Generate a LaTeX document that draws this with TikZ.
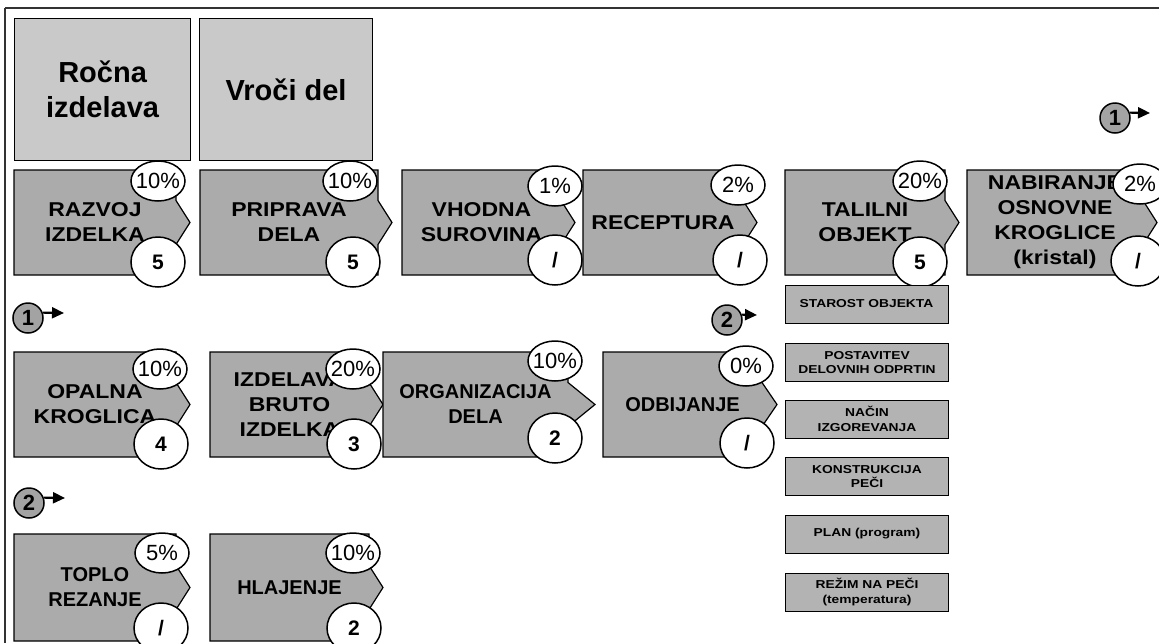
\documentclass[tikz,border=0pt]{standalone}
\usepackage{fontspec}
\setmainfont{Liberation Sans}
\newfontfamily\procA[FakeStretch=1.15]{Liberation Sans}
\newfontfamily\procB{Liberation Sans}
\newfontfamily\smallA[FakeStretch=1.2]{Liberation Sans}
\usetikzlibrary{arrows.meta,shapes.geometric}
\definecolor{boxgray}{HTML}{ABABAB}
\definecolor{topgray}{HTML}{C9C9C9}
\definecolor{smallgray}{HTML}{B3B3B3}
\definecolor{markgray}{HTML}{A3A3A3}
\tikzset{
  x=1pt, y=-1pt,
  procanchor/.style={inner sep=0pt, outer sep=0pt, anchor=north west, draw=none},
  procshape/.style={draw=black, line width=1.2pt, fill=boxgray, line join=miter},
  proctext/.style={align=center, inner sep=0pt, text=black, font=\procA\bfseries\fontsize{20}{25}\selectfont},
  plain/.style={font=\procB\bfseries\fontsize{20}{25}\selectfont},
  topbox/.style={draw=black, line width=1.2pt, fill=topgray, anchor=north west, inner sep=0pt, align=center, font=\bfseries\fontsize{29}{35}\selectfont},
  pct/.style={ellipse, draw=black, line width=1.5pt, fill=white, minimum width=54pt, minimum height=40pt, inner sep=0pt},
  num/.style={ellipse, draw=black, line width=1.5pt, fill=white, minimum width=54pt, minimum height=50pt, inner sep=0pt},
  pctlabel/.style={label={[font=\fontsize{22}{22}\selectfont, inner sep=0pt]center:#1}},
  numlabel/.style={label={[font=\bfseries\fontsize{21}{21}\selectfont, inner sep=0pt]center:#1}},
  smallbox/.style={draw=black, line width=1pt, fill=smallgray, minimum width=163pt, minimum height=38pt, inner sep=0pt, align=center, font=\smallA\bfseries\fontsize{11.5}{14.5}\selectfont},
  marker/.style={circle, draw=black, line width=1.5pt, fill=markgray, minimum size=30pt, inner sep=0pt, font=\bfseries\fontsize{22}{22}\selectfont},
  markarrow/.style={line width=2.2pt, -{Triangle[length=12pt,width=11pt]}},
  frameline/.style={draw=black!80, line width=1.2pt}
}
% #1 optional text style, #2 name, #3 left, #4 top, #5 width, #6 height, #7 point depth, #8 text
\newcommand\proc[8][]{%
  \node[procanchor, minimum width=#5pt, minimum height=#6pt] (#2) at (#3,#4) {};
  \draw[procshape] (#2.north west) -- (#2.north east) -- ([yshift=22pt]#2.east)
    -- ([xshift=#7pt]#2.east) -- ([yshift=-22pt]#2.east) -- (#2.south east)
    -- (#2.south west) -- cycle;
  \node[proctext,#1] (#2-t) at (#2.center) {#8};
}
\begin{document}
\begin{tikzpicture}
\useasboundingbox (0,0) rectangle (1159,643);
\fill[white] (0,0) rectangle (1159,643);
\clip (0,0) rectangle (1159,643);

% frame
\draw[frameline] (5,8) -- (1159,8);
\draw[frameline] (5,8) -- (5,643);

% top boxes
\node[topbox, minimum width=176pt, minimum height=142pt] (rocna) at (14,18) {Ročna\\izdelava};
\node[topbox, minimum width=173pt, minimum height=142pt] (vroci) at (199,18) {Vroči del};

% row 1
\proc{razvoj}{14}{170}{162}{105}{14}{RAZVOJ\\IZDELKA}
\proc{priprava}{200}{170}{178}{105}{14}{PRIPRAVA\\DELA}
\proc{vhodna}{402}{170}{159}{105}{14}{VHODNA\\SUROVINA}
\proc{receptura}{583}{170}{160}{105}{14}{RECEPTURA}
\proc{talilni}{785}{170}{160}{105}{14}{TALILNI\\OBJEKT}
\proc{nabiranje}{967}{170}{176}{105}{14}{NABIRANJE\\OSNOVNE\\KROGLICE\\(kristal)}

% row 2
\proc{opalna}{14}{352}{162}{105}{14}{OPALNA\\KROGLICA}
\proc{izdelava}{210}{352}{159}{105}{14}{IZDELAVA\\BRUTO\\IZDELKA}
\proc[plain]{organizacija}{383}{352}{185}{105}{27}{ORGANIZACIJA\\DELA}
\proc[plain]{odbijanje}{603}{352}{159}{105}{15}{ODBIJANJE}

% row 3
\proc[plain]{toplo}{14}{534}{162}{107}{14}{TOPLO\\REZANJE}
\proc[plain]{hlajenje}{210}{534}{159}{107}{14}{HLAJENJE}

% percentage ellipses
\node[pct, pctlabel={10\%}] (razvoj-p) at (158,181) {};
\node[pct, pctlabel={10\%}] (priprava-p) at (350,181) {};
\node[pct, pctlabel={1\%}] (vhodna-p) at (555,186) {};
\node[pct, pctlabel={2\%}] (receptura-p) at (738,185) {};
\node[pct, pctlabel={20\%}] (talilni-p) at (920,181) {};
\node[pct, pctlabel={2\%}] (nabiranje-p) at (1140,184) {};
\node[pct, pctlabel={10\%}] (opalna-p) at (160,369) {};
\node[pct, pctlabel={20\%}] (izdelava-p) at (353,369) {};
\node[pct, pctlabel={10\%}] (organizacija-p) at (555,361) {};
\node[pct, pctlabel={0\%}] (odbijanje-p) at (746,366) {};
\node[pct, pctlabel={5\%}] (toplo-p) at (162,553) {};
\node[pct, pctlabel={10\%}] (hlajenje-p) at (353,553) {};

% number ellipses
\node[num, numlabel={5}] (razvoj-n) at (158,262) {};
\node[num, numlabel={5}] (priprava-n) at (353,262) {};
\node[num, numlabel={/}] (vhodna-n) at (555,260) {};
\node[num, numlabel={/}] (receptura-n) at (740,260) {};
\node[num, numlabel={5}] (talilni-n) at (920,262) {};
\node[num, numlabel={/}] (nabiranje-n) at (1138,261) {};
\node[num, numlabel={4}] (opalna-n) at (161,444) {};
\node[num, numlabel={3}] (izdelava-n) at (354,444) {};
\node[num, numlabel={2}] (organizacija-n) at (555,438) {};
\node[num, numlabel={/}] (odbijanje-n) at (747,443) {};
\node[num, numlabel={/}] (toplo-n) at (161,628) {};
\node[num, numlabel={2}] (hlajenje-n) at (354,628) {};

% furnace factors
\node[smallbox] (starost) at (866.5,304) {STAROST OBJEKTA};
\node[smallbox] (postavitev) at (867,362.5) {POSTAVITEV\\DELOVNIH ODPRTIN};
\node[smallbox] (nacin) at (867,419) {NAČIN\\IZGOREVANJA};
\node[smallbox] (konstrukcija) at (867,476.5) {KONSTRUKCIJA\\PEČI};
\node[smallbox] (plan) at (867,534) {PLAN (program)};
\node[smallbox] (rezim) at (867,592) {REŽIM NA PEČI\\(temperatura)};

% continuation markers
\node[marker] (m1a) at (1115,118) {1};
\coordinate (m1a-end) at (1150,113);
\draw[markarrow] (m1a.20) -- (m1a-end);
\node[marker] (m1b) at (28,318) {1};
\coordinate (m1b-end) at (64,313);
\draw[markarrow] (m1b.20) -- (m1b-end);
\node[marker] (m2a) at (727,320) {2};
\coordinate (m2a-end) at (757,315);
\draw[markarrow] (m2a.20) -- (m2a-end);
\node[marker] (m2b) at (29,503) {2};
\coordinate (m2b-end) at (65,498);
\draw[markarrow] (m2b.20) -- (m2b-end);
\end{tikzpicture}
\end{document}
